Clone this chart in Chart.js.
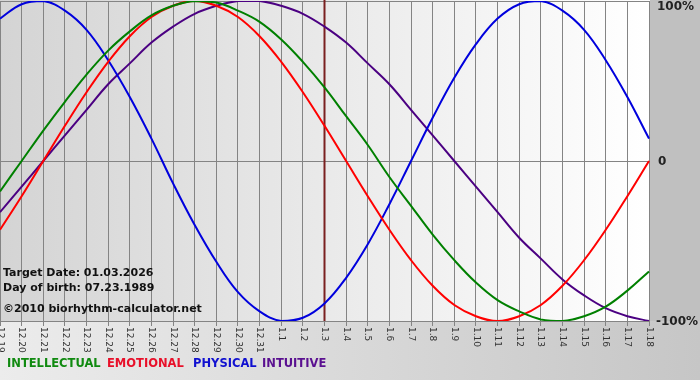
<!DOCTYPE html>
<html>
<head>
<meta charset="utf-8">
<script src="https://cdn.jsdelivr.net/npm/chart.js@4.4.1/dist/chart.umd.min.js"></script>
<style>
  html, body { margin: 0; padding: 0; background: #fff; }
  #wrap { width: 700px; height: 380px; }
</style>
</head>
<body>
<div id="wrap"><canvas id="bio" width="700" height="380"></canvas></div>
<script>
/* ===============================
   DATA
================================ */
const days = [
  '12.19', '12.20', '12.21', '12.22', '12.23', '12.24', '12.25', '12.26', '12.27', '12.28',
  '12.29', '12.30', '12.31', '1.1', '1.2', '1.3', '1.4', '1.5', '1.6', '1.7',
  '1.8', '1.9', '1.10', '1.11', '1.12', '1.13', '1.14', '1.15', '1.16', '1.17', '1.18',
];
const intellectual = [-19, 0, 19, 37, 54, 69, 81, 91, 97, 100, 99, 94, 87, 76, 62, 46, 28, 10, -10, -28, -46, -62, -76, -87, -94, -99, -100, -97, -91, -81, -69];
const emotional = [-43, -22, 0, 22, 43, 62, 78, 90, 97, 100, 97, 90, 78, 62, 43, 22, 0, -22, -43, -62, -78, -90, -97, -100, -97, -90, -78, -62, -43, -22, 0];
const physical = [89, 98, 100, 94, 82, 63, 40, 14, -14, -40, -63, -82, -94, -100, -98, -89, -73, -52, -27, 0, 27, 52, 73, 89, 98, 100, 94, 82, 63, 40, 14];
const intuitive = [-32, -16, 0, 16, 32, 48, 61, 74, 84, 92, 97, 100, 100, 97, 92, 84, 74, 61, 48, 32, 16, 0, -16, -32, -48, -61, -74, -84, -92, -97, -100];

const seriesNames = ['INTELLECTUAL', 'EMOTIONAL', 'PHYSICAL', 'INTUITIVE'];
const yTickLabels = ['100%', '0', '-100%'];
const targetDay = '1.3';
const infoLines = ['Target Date: 01.03.2026', 'Day of birth: 07.23.1989'];
const copyright = '\u00a92010 biorhythm-calculator.net';

const lineColors = ['#008000', '#ff0000', '#0000dd', '#4b0082'];
const legendColors = ['#108a10', '#e8102a', '#1010d0', '#5a1090'];

/* ===============================
   DECORATION PLUGIN
================================ */
const FONT = '"DejaVu Sans", Verdana, sans-serif';

const bioDecor = {
  id: 'bioDecor',
  beforeDraw(chart) {
    const { ctx, chartArea: a, width, height } = chart;
    ctx.save();
    let g = ctx.createLinearGradient(0, 0, width, 0);
    g.addColorStop(0, '#ececec');
    g.addColorStop(1, '#c6c6c6');
    ctx.fillStyle = g;
    ctx.fillRect(0, 0, width, height);

    ctx.fillStyle = '#c0c0c0';
    ctx.fillRect(a.right, 0, width - a.right, a.bottom);

    g = ctx.createLinearGradient(a.left, 0, a.right, 0);
    g.addColorStop(0, '#d4d4d4');
    g.addColorStop(1, '#ffffff');
    ctx.fillStyle = g;
    ctx.fillRect(a.left, 0, a.right - a.left + 1, a.bottom);
    ctx.restore();
  },
  beforeDatasetsDraw(chart) {
    const { ctx, chartArea: a, scales } = chart;
    const x = scales.x.getPixelForValue(days.indexOf(targetDay));
    ctx.save();
    ctx.strokeStyle = '#7a2020';
    ctx.lineWidth = 2;
    ctx.beginPath();
    ctx.moveTo(x, 0);
    ctx.lineTo(x, a.bottom);
    ctx.stroke();
    ctx.restore();
  },
  afterDraw(chart) {
    const { ctx, chartArea: a, scales } = chart;
    ctx.save();

    // rotated day labels
    ctx.font = '9px ' + FONT;
    ctx.fillStyle = '#333';
    ctx.textAlign = 'left';
    ctx.textBaseline = 'middle';
    days.forEach((d, i) => {
      const x = scales.x.getPixelForValue(i);
      ctx.save();
      ctx.translate(x, a.bottom + 6);
      ctx.rotate(Math.PI / 2);
      ctx.fillText(d, 0, 0);
      ctx.restore();
    });

    // right axis labels
    ctx.font = 'bold 12px ' + FONT;
    ctx.fillStyle = '#222';
    ctx.textBaseline = 'middle';
    ctx.fillText(yTickLabels[0], a.right + 8, scales.y.getPixelForValue(100) + 6);
    ctx.fillText(yTickLabels[1], a.right + 9, scales.y.getPixelForValue(0) + 1);
    ctx.fillText(yTickLabels[2], a.right + 7, scales.y.getPixelForValue(-100) + 1);

    // info text
    ctx.fillStyle = '#111';
    ctx.textBaseline = 'alphabetic';
    ctx.font = 'bold 11px ' + FONT;
    ctx.fillText(infoLines[0], 3, 276);
    ctx.fillText(infoLines[1], 3, 291);
    ctx.fillText(copyright, 3, 312);

    // legend
    ctx.font = 'bold 11.5px ' + FONT;
    const legendX = [7, 107, 193, 262];
    seriesNames.forEach((n, i) => {
      ctx.fillStyle = legendColors[i];
      ctx.fillText(n, legendX[i], 367);
    });
    ctx.restore();
  },
};

/* ===============================
   CHART
================================ */
const series = [intellectual, emotional, physical, intuitive];

new Chart(document.getElementById('bio'), {
  type: 'line',
  data: {
    labels: days,
    datasets: series.map((data, i) => ({
      label: seriesNames[i],
      data: data,
      borderColor: lineColors[i],
      borderWidth: 2,
      pointRadius: 0,
      fill: false,
      tension: 0.4,
    })),
  },
  options: {
    responsive: false,
    animation: false,
    layout: { padding: { top: 1, left: 0, right: 0, bottom: 0 } },
    plugins: {
      legend: { display: false },
      tooltip: { enabled: false },
    },
    scales: {
      x: {
        type: 'category',
        offset: false,
        ticks: { display: false },
        grid: { color: '#848484', lineWidth: 1, tickLength: 5, offset: false },
        border: { color: '#848484' },
        afterFit(scale) { scale.height = 59; },
      },
      y: {
        position: 'right',
        min: -100,
        max: 100,
        ticks: { display: false, stepSize: 100 },
        grid: { color: '#848484', lineWidth: 1, drawTicks: false },
        border: { display: false },
        afterFit(scale) { scale.width = 51; },
      },
    },
  },
  plugins: [bioDecor],
});
</script>
</body>
</html>
